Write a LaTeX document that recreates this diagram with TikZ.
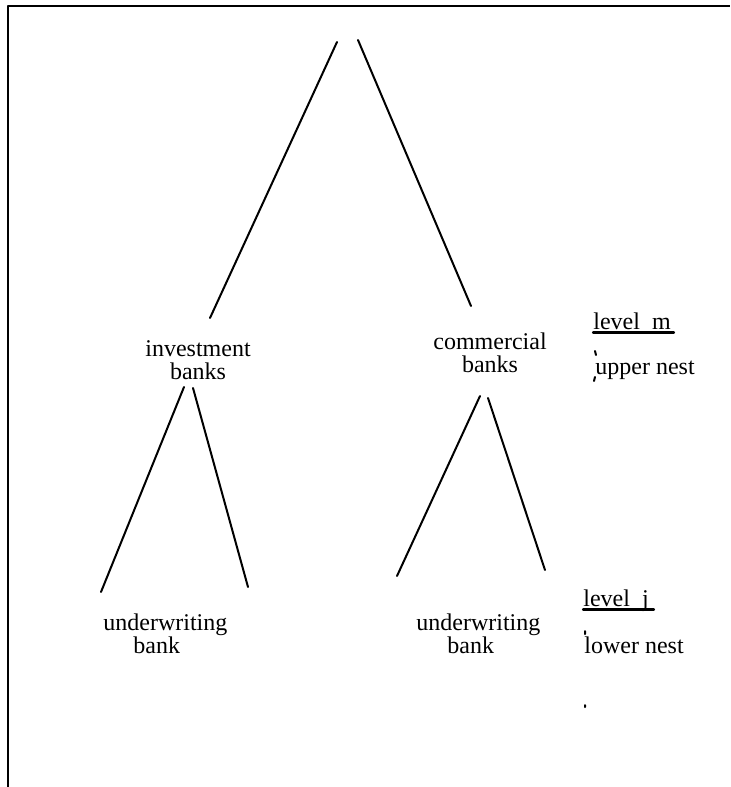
\documentclass[tikz,border=0pt]{standalone}
\usepackage{fontspec}
\setmainfont{Liberation Serif}
\begin{document}
\begin{tikzpicture}[x=0.5pt, y=-0.5pt, line join=round, line cap=round,
	font=\fontsize{12}{11.5}\selectfont,
	branch/.style={line width=1pt},
	lbl/.style={inner sep=0pt, anchor=base, align=center},
	side/.style={inner sep=0pt, anchor=base west}]
			\useasboundingbox (0,0) rectangle (730,787);
			\draw [line width=1pt, line cap=butt] (8,787)--(8,5.5)--(730,5.5);
			\path
			(337,42) coordinate (T1)
			(358,40) coordinate (T2)
			(210,318) coordinate (I)
			(471,306) coordinate (C)
			(184,387) coordinate (I1)
			(193,388) coordinate (I2)
			(101,592) coordinate (U1)
			(248,587) coordinate (U2)
			(480,396) coordinate (C1)
			(488,398) coordinate (C2)
			(397,576) coordinate (W1)
			(545,570) coordinate (W2)
			;
			% labels (anchored at the last line)
			\node [lbl] (inv) at (198,379) {investment\\banks};
			\node [lbl] (com) at (490,372) {commercial\\banks};
			\node [side, align=left] (uwl) at (103,653) {underwriting\\\hspace*{15pt}bank};
			\node [side, align=left] (uwr) at (416,653) {underwriting\\\hspace*{15.5pt}bank};
			\node [side] (lvm) at (593,329) {level\ \ m};
			\node [side] (upn) at (595,374) {upper nest};
			\node [side] (lvj) at (583,606) {level\ \ j};
			\node [side] (lwn) at (584,653) {lower nest};
			\draw [line width=1.1pt] (lvm.base west)++(0,3.5)--(674,332.5);
			\draw [line width=1.1pt] (lvj.base west)++(0,3.5)--(654,609.5);
			% stray marks
			\draw [line width=1pt] (595,351)--(596,355) (595,377)--(594,381) (585,631)--(585,634) (585,705)--(585,707);
			% branches
			\draw [branch] (T1)--(I) (T2)--(C) (I1)--(U1) (I2)--(U2) (C1)--(W1) (C2)--(W2);
		\end{tikzpicture}
\end{document}
